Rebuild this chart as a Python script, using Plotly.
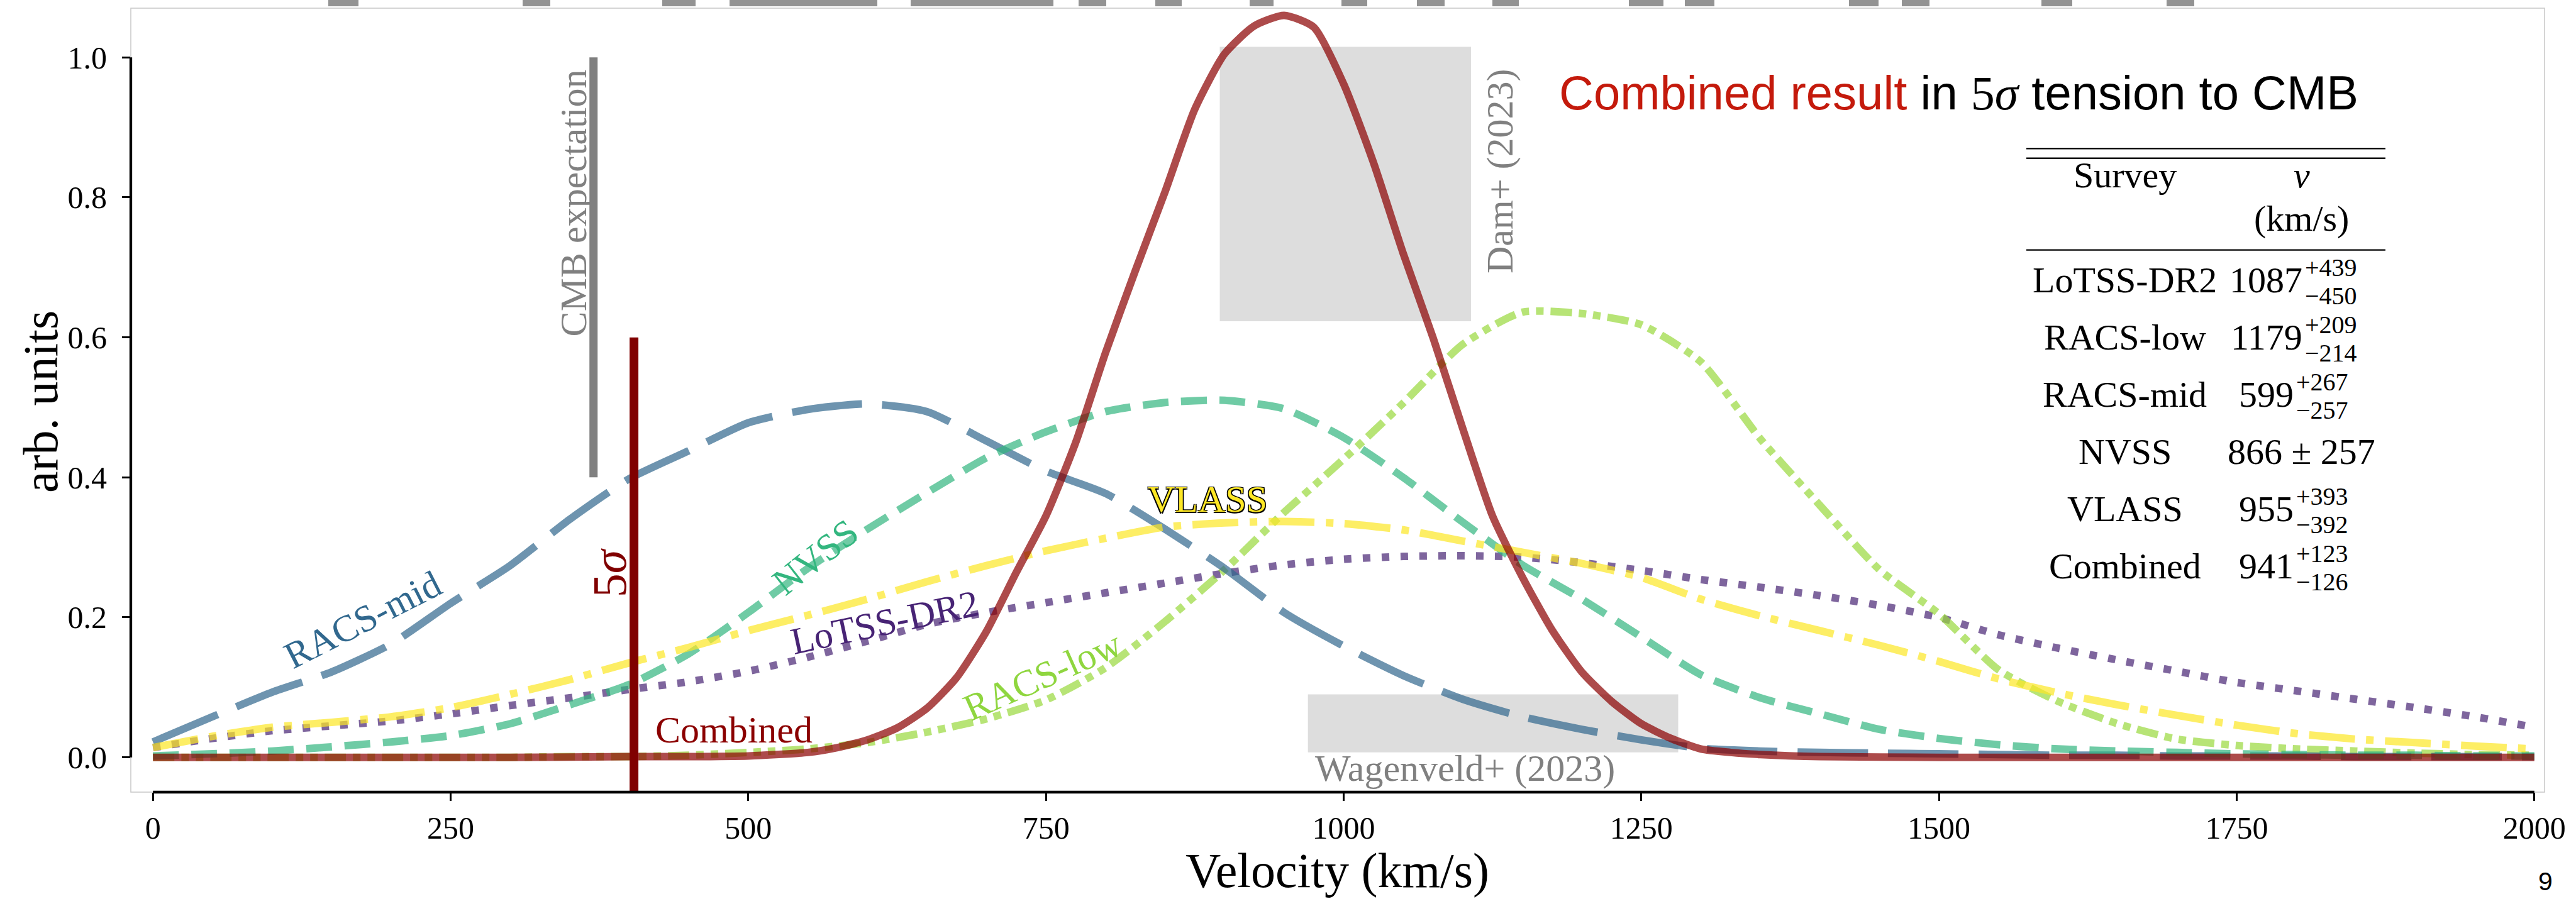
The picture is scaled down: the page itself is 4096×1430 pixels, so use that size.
import plotly.graph_objects as go

# ---------------------------------------------------------------- data
# Posterior densities of the dipole velocity for each survey (arb. units)
velocity = list(range(0, 2001, 50))  # km/s

lotss_dr2 = [0.014, 0.027, 0.038, 0.045, 0.052, 0.062, 0.074, 0.085, 0.097, 0.108,
             0.123, 0.143, 0.166, 0.190, 0.207, 0.221, 0.235, 0.249, 0.263, 0.275,
             0.283, 0.287, 0.288, 0.286, 0.278, 0.267, 0.254, 0.243, 0.231, 0.217,
             0.200, 0.175, 0.156, 0.139, 0.123, 0.107, 0.095, 0.083, 0.071, 0.058, 0.043]

racs_low = [0.000, 0.000, 0.000, 0.000, 0.000, 0.000, 0.000, 0.001, 0.001, 0.003,
            0.007, 0.012, 0.021, 0.036, 0.055, 0.082, 0.128, 0.194, 0.268, 0.350,
            0.426, 0.506, 0.590, 0.636, 0.634, 0.618, 0.565, 0.455, 0.360, 0.268,
            0.205, 0.125, 0.080, 0.048, 0.026, 0.017, 0.012, 0.009, 0.006, 0.004, 0.003]

racs_mid = [0.022, 0.058, 0.093, 0.122, 0.162, 0.220, 0.274, 0.340, 0.398, 0.438,
            0.478, 0.497, 0.505, 0.494, 0.452, 0.409, 0.377, 0.326, 0.270, 0.207,
            0.159, 0.117, 0.083, 0.058, 0.040, 0.025, 0.013, 0.009, 0.007, 0.006,
            0.005, 0.004, 0.003, 0.003, 0.002, 0.002, 0.002, 0.001, 0.001, 0.001, 0.001]

nvss = [0.002, 0.005, 0.009, 0.015, 0.022, 0.031, 0.048, 0.075, 0.104, 0.148,
        0.207, 0.270, 0.326, 0.378, 0.428, 0.465, 0.494, 0.507, 0.510, 0.498,
        0.457, 0.400, 0.336, 0.275, 0.226, 0.172, 0.118, 0.085, 0.062, 0.040,
        0.027, 0.018, 0.012, 0.009, 0.007, 0.005, 0.004, 0.003, 0.003, 0.002, 0.002]

vlass = [0.014, 0.030, 0.043, 0.050, 0.058, 0.071, 0.090, 0.111, 0.135, 0.157,
         0.181, 0.203, 0.226, 0.251, 0.274, 0.295, 0.313, 0.329, 0.335, 0.337,
         0.334, 0.325, 0.309, 0.293, 0.277, 0.257, 0.226, 0.202, 0.181, 0.160,
         0.137, 0.112, 0.092, 0.075, 0.060, 0.046, 0.034, 0.026, 0.021, 0.016, 0.012]

combined_velocity = [0, 100, 200, 300, 400, 450, 500, 550, 575, 600, 625, 650, 675,
                     700, 725, 750, 775, 800, 825, 850, 875, 900, 925, 950, 975,
                     1000, 1025, 1050, 1075, 1100, 1125, 1150, 1175, 1200, 1225,
                     1250, 1275, 1300, 1325, 1350, 1400, 1500, 1600, 1800, 2000]
combined = [0.0, 0.0, 0.0, 0.0, 0.001, 0.001, 0.002, 0.007, 0.014, 0.025, 0.042, 0.070,
            0.114, 0.180, 0.264, 0.345, 0.450, 0.578, 0.695, 0.808, 0.926, 1.005,
            1.045, 1.060, 1.043, 0.962, 0.850, 0.720, 0.600, 0.470, 0.345, 0.258,
            0.182, 0.122, 0.080, 0.048, 0.027, 0.012, 0.007, 0.004, 0.001, 0.0,
            0.0, 0.0, 0.0]

v_cmb = 370            # CMB dipole expectation, km/s
cmb_line_span = [0.4, 1.0]
v_5sigma = 404         # 5 sigma tension threshold, km/s
sigma_line_top = 0.6

dam_v = [896, 1107]          # Dam+ (2023) interval
dam_y = [0.623, 1.015]
wagenveld_v = [970, 1281]    # Wagenveld+ (2023) interval
wagenveld_y = [0.007, 0.09]

xticks = [0, 250, 500, 750, 1000, 1250, 1500, 1750, 2000]
yticks = [0.0, 0.2, 0.4, 0.6, 0.8, 1.0]
ytick_labels = ["0.0", "0.2", "0.4", "0.6", "0.8", "1.0"]

table_surveys = ["LoTSS-DR2", "RACS-low", "RACS-mid", "NVSS", "VLASS", "Combined"]
table_v = [1087, 1179, 599, 866, 955, 941]
table_err_up = [439, 209, 267, 257, 393, 123]
table_err_lo = [450, 214, 257, 257, 392, 126]

# ---------------------------------------------------------------- styling
W, H = 4096, 1430
ML, MR, MT, MB = 208, 50, 13, 170
PW, PH = W - ML - MR, H - MT - MB
XR = [-18.6, 2008.6]
YR = [-0.0497, 1.0703]

SERIF = "Liberation Serif"
SANS = "Liberation Sans"
LW = 12

def px_x(px):
    return (px - ML) / PW

def px_y(py):
    return (MT + PH - py) / PH

curves = [
    ("LoTSS-DR2", velocity, lotss_dr2, "#482475", "12px,18px"),
    ("RACS-low", velocity, racs_low, "#9ad93d", "34px,11px,12px,11px,12px,11px"),
    ("RACS-mid", velocity, racs_mid, "#31688e", "112px,32px"),
    ("NVSS", velocity, nvss, "#33b67f", "41px,20px"),
    ("VLASS", velocity, vlass, "#fde725", "73px,18px,12px,18px"),
    ("Combined", combined_velocity, combined, "#8b0000", "solid"),
]

fig = go.Figure()

for name, xs, ys, color, dash in curves:
    fig.add_trace(go.Scatter(
        x=xs, y=ys, mode="lines", name=name, opacity=0.7,
        line=dict(color=color, width=LW, dash=dash, shape="spline", smoothing=0.6),
        hoverinfo="skip", showlegend=False))

# CMB expectation and 5 sigma markers
fig.add_trace(go.Scatter(x=[v_cmb, v_cmb], y=cmb_line_span, mode="lines",
                         line=dict(color="#808080", width=13),
                         hoverinfo="skip", showlegend=False))
fig.add_trace(go.Scatter(x=[v_5sigma, v_5sigma], y=[YR[0], sigma_line_top], mode="lines",
                         line=dict(color="#800000", width=14),
                         hoverinfo="skip", showlegend=False))

shapes = []
# literature intervals
for xv, yv in [(dam_v, dam_y), (wagenveld_v, wagenveld_y)]:
    shapes.append(dict(type="rect", xref="x", yref="y", x0=xv[0], x1=xv[1],
                       y0=yv[0], y1=yv[1], fillcolor="#dddddd",
                       line=dict(width=0), layer="below"))
# thin frame around the axes area
shapes.append(dict(type="rect", xref="paper", yref="paper", x0=0, x1=1, y0=0, y1=1,
                   line=dict(color="#c8c8c8", width=1.5), layer="below"))
# trimmed spines
shapes.append(dict(type="line", xref="x", yref="paper", x0=xticks[0], x1=xticks[-1],
                   y0=0, y1=0, line=dict(color="black", width=4.3)))
shapes.append(dict(type="line", xref="paper", yref="y", x0=0, x1=0,
                   y0=yticks[0], y1=yticks[-1], line=dict(color="black", width=4.3)))

# bottoms of the slide heading letters, clipped by the top edge
heading_strokes = [(522, 570), (831, 875), (1053, 1106), (1160, 1395), (1448, 1675),
                   (1715, 1759), (1837, 1879), (1987, 2025), (2133, 2174), (2253, 2297),
                   (2373, 2415), (2590, 2645), (2679, 2726), (2940, 2987), (3024, 3068),
                   (3246, 3295), (3445, 3489)]
for a, b in heading_strokes:
    shapes.append(dict(type="rect", xref="paper", yref="paper", x0=px_x(a), x1=px_x(b),
                       y0=px_y(10), y1=px_y(-2), fillcolor="#939393",
                       line=dict(width=0)))

# table rules
tab_x0, tab_x1 = 3222, 3793
for ry in [236.4, 251.8, 397.6]:
    shapes.append(dict(type="line", xref="paper", yref="paper", x0=px_x(tab_x0),
                       x1=px_x(tab_x1), y0=px_y(ry), y1=px_y(ry),
                       line=dict(color="black", width=2.4)))

ann = []

def text(x, y, s, size, color="black", family=SERIF, angle=0, xanchor="center",
         yanchor="middle", ref="data", pad=1, **kw):
    d = dict(x=x, y=y, text=s, showarrow=False, textangle=angle,
             xanchor=xanchor, yanchor=yanchor, borderpad=pad,
             font=dict(size=size, color=color, family=family, **kw))
    if ref == "data":
        d.update(xref="x", yref="y")
    else:
        d.update(xref="paper", yref="paper")
    ann.append(d)

# curve labels
text(176.2, 0.196, "RACS-mid", 60, "#31688e", angle=-27)
text(556.4, 0.286, "NVSS", 60, "#33b67f", angle=-38)
text(614.2, 0.193, "LoTSS-DR2", 60, "#482475", angle=-12)
text(747.1, 0.1167, "RACS-low", 60, "#8fd63f", angle=-24)
text(885.9, 0.3685, "VLASS", 60, "#fde725",
     shadow="1.5px 1.5px 0 #000, -1.5px -1.5px 0 #000, 1.5px -1.5px 0 #000, -1.5px 1.5px 0 #000")
text(420.8, 0.0396, "Combined", 60, "#8b0000", xanchor="left")
text(975, -0.0159, "Wagenveld+ (2023)", 60, "#808080", xanchor="left")
text(1131.4, 0.837, "Dam+ (2023)", 60, "#808080", angle=-90)
text(353, 0.792, "CMB expectation", 60, "#808080", angle=-90)
text(383.1, 0.263, "5<i>σ</i>", 76, "#800000", angle=-90)

# axis titles and page number
text(px_x(2126), px_y(1384), "Velocity (km/s)", 78, ref="paper", pad=0)
text(px_x(64), px_y(639), "arb. units", 78, angle=-90, ref="paper")
text(px_x(4060), px_y(1402), "9", 41, family=SANS, xanchor="right", ref="paper", pad=0)

# headline
text(px_x(2477), px_y(147.4),
     '<span style="color:#c41a0c">Combined result</span> in '
     '<span style="font-family:Liberation Serif">5<i>σ</i></span> tension to CMB',
     76, family=SANS, xanchor="left", ref="paper")

# results table
col1, col2 = 3378.7, 3659.5
text(px_x(col1), px_y(278.4), "Survey", 58, ref="paper")
text(px_x(col2), px_y(278.4), "<i>v</i>", 58, ref="paper")
text(px_x(col2), px_y(347), "(km/s)", 58, ref="paper")
row0, row_step = 445, 91.1
digit_w, exp_w = 27.5, 103
sup_dy, sub_dy = -20.0, 25.0
for i, (name, v, up, lo) in enumerate(zip(table_surveys, table_v, table_err_up, table_err_lo)):
    ry = row0 + i * row_step
    text(px_x(col1), px_y(ry), name, 58, ref="paper")
    if up == lo:
        text(px_x(col2), px_y(ry), f"{v} ± {up}", 58, ref="paper")
    else:
        join = col2 + (len(str(v)) * digit_w - exp_w) / 2
        text(px_x(join - 1), px_y(ry), str(v), 58, xanchor="right", ref="paper", pad=0)
        text(px_x(join + 1), px_y(ry + sup_dy), f"+{up}", 40, xanchor="left",
             ref="paper", pad=0)
        text(px_x(join + 1), px_y(ry + sub_dy), f"−{lo}", 40, xanchor="left",
             ref="paper", pad=0)

fig.update_layout(
    width=W, height=H,
    margin=dict(l=ML, r=MR, t=MT, b=MB, pad=0),
    paper_bgcolor="white", plot_bgcolor="white",
    shapes=shapes, annotations=ann,
    xaxis=dict(range=XR, tickvals=xticks, ticktext=[str(t) for t in xticks],
               ticks="outside", ticklen=13, tickwidth=3.2, tickcolor="black",
               tickfont=dict(family=SERIF, size=50, color="black"),
               showline=False, showgrid=False, zeroline=False,
               ticklabelstandoff=0),
    yaxis=dict(range=YR, tickvals=yticks, ticktext=ytick_labels,
               ticks="outside", ticklen=13, tickwidth=3.2, tickcolor="black",
               tickfont=dict(family=SERIF, size=50, color="black"),
               showline=False, showgrid=False, zeroline=False,
               ticklabelstandoff=14),
)

fig.write_html("out.html")
